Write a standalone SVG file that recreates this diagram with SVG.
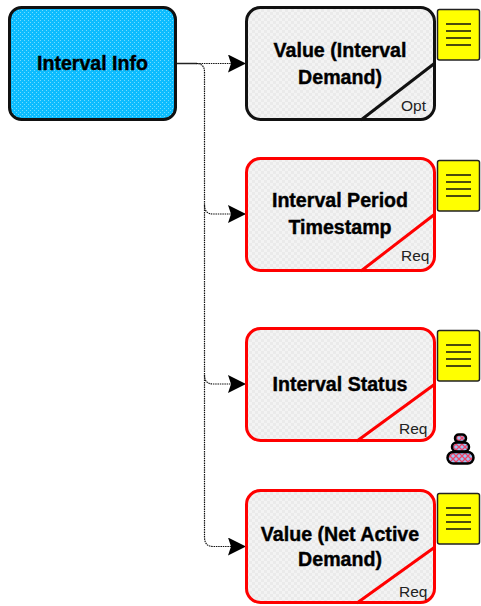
<svg xmlns="http://www.w3.org/2000/svg" width="481" height="606" viewBox="0 0 481 606">
<style>
.box{stroke-width:3}
.blue{fill:url(#pb);stroke:#111}
.gb{fill:url(#pg);stroke:#111}
.rb{fill:url(#pg);stroke:#f00}
.d{fill:none;stroke-width:3}
.t{font-family:"Liberation Sans",Arial,sans-serif;font-weight:700;font-size:19.600px;text-anchor:middle;fill:#000;stroke:#000;stroke-width:.4}
.s{font-family:"Liberation Sans",Arial,sans-serif;font-size:15.500px;fill:#222}
.c{fill:none;stroke:#111;stroke-width:1.200;stroke-dasharray:1.500 .8}
.n{fill:#ff0;stroke:#222;stroke-width:1.500}
.l{stroke:#111;stroke-width:1.300;fill:none}
</style>
<defs>
<pattern id="pb" width="4" height="4" patternUnits="userSpaceOnUse"><rect width="4" height="4" fill="#0cbcff"/><rect x="0" y="0" width="1" height="1" fill="#6fdcff"/><rect x="2" y="2" width="1" height="1" fill="#6fdcff"/></pattern>
<pattern id="pg" width="6" height="6" patternUnits="userSpaceOnUse"><rect width="6" height="6" fill="#f3f3f3"/><rect width="3" height="3" fill="#eaeaea"/><rect x="3" y="3" width="3" height="3" fill="#eaeaea"/></pattern>
<pattern id="ps" width="6" height="6" patternUnits="userSpaceOnUse"><rect width="6" height="6" fill="#9cc4f5"/><path d="M0 0L6 6M6 0L0 6" stroke="#ee4468" stroke-width="1.300"/></pattern>
<marker id="a" markerUnits="userSpaceOnUse" markerWidth="19" markerHeight="18" refX="18" refY="9" orient="auto"><path d="M0 0L18 9L0 18L3 9Z" fill="#000"/></marker>
<g id="note"><rect class="n" x="437.500" y="9.500" width="42" height="50.500" rx="2"/><path class="l" d="M446 24H471M446 31H471M446 38H471M446 45H471"/></g>
</defs>
<g id="connectors">
<path d="M176 63.500H197" fill="none" stroke="#222" stroke-width="1.500"/>
<path class="c" d="M197 63.500H246" marker-end="url(#a)"/>
<path class="c" d="M196 63.500Q204.500 63.500 204.500 72V205Q204.500 214 213 214H246" marker-end="url(#a)"/>
<path class="c" d="M204.500 205V375Q204.500 384 213 384H246" marker-end="url(#a)"/>
<path class="c" d="M204.500 375V537Q204.500 546.500 213 546.500H246" marker-end="url(#a)"/>
</g>
<g id="interval-info"><rect class="box blue" x="9.500" y="7.500" width="166" height="112" rx="12"/><text class="t" x="92.500" y="70">Interval Info</text></g>
<g id="value-interval-demand"><rect class="box gb" x="246.500" y="7.500" width="188" height="112" rx="14"/><path class="d" stroke="#111" d="M435 63L361 120"/><text class="t" x="340" y="57">Value (Interval</text><text class="t" x="340" y="84">Demand)</text><text class="s" x="401" y="111">Opt</text></g>
<g id="interval-period-timestamp"><rect class="box rb" x="246.500" y="158.500" width="188" height="112" rx="14"/><path class="d" stroke="#f00" d="M435 214L361 271"/><text class="t" x="340" y="207">Interval Period</text><text class="t" x="340" y="234">Timestamp</text><text class="s" x="401" y="261">Req</text></g>
<g id="interval-status"><rect class="box rb" x="246.500" y="328.500" width="188" height="112" rx="14"/><path class="d" stroke="#f00" d="M435 384L357 441"/><text class="t" x="340" y="391">Interval Status</text><text class="s" x="399" y="434">Req</text></g>
<g id="value-net-active-demand"><rect class="box rb" x="246.500" y="490.500" width="188" height="112" rx="14"/><path class="d" stroke="#f00" d="M435 547L357 603"/><text class="t" x="340" y="541">Value (Net Active</text><text class="t" x="340" y="566">Demand)</text><text class="s" x="399" y="597">Req</text></g>
<g id="note-1"><use href="#note"/></g>
<g id="note-2"><use href="#note" y="151"/></g>
<g id="note-3"><use href="#note" y="321"/></g>
<g id="note-4"><use href="#note" y="484"/></g>
<g id="stack" fill="url(#ps)" stroke="#000" stroke-width="2.500"><rect x="455" y="434.500" width="11" height="7.500" rx="3.700"/><rect x="452" y="442.500" width="17" height="9" rx="4.500"/><rect x="447.500" y="452" width="26" height="11.500" rx="5.700"/></g>
</svg>
